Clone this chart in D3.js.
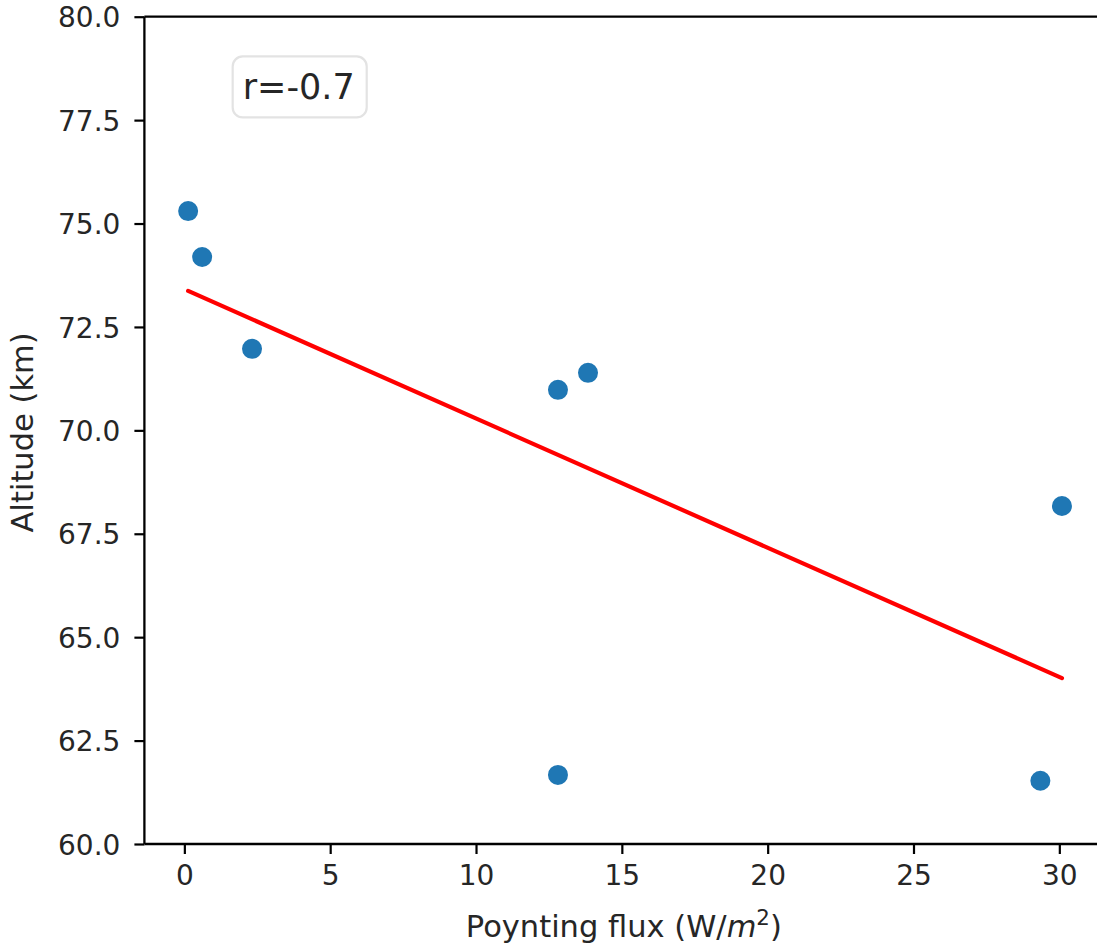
<!DOCTYPE html>
<html><head><meta charset="utf-8">
<script src="https://cdn.jsdelivr.net/npm/d3@7"></script>
<style>
html,body{margin:0;padding:0;background:#fff;overflow:hidden}
text{font-family:"DejaVu Sans",sans-serif;fill:#262626}
</style></head>
<body>
<svg id="chart" width="1097" height="949"></svg>
<script>
// Data
const fluxValues = [0.13, 0.61, 2.32, 12.81, 13.84, 30.09, 12.81, 29.35];
const altitudeValues = [75.30, 74.19, 71.97, 70.98, 71.39, 68.17, 61.67, 61.53];
const fitX = [0.13, 30.09];
const fitY = [73.37, 64.01];
const xTicks = [0, 5, 10, 15, 20, 25, 30];
const yTicks = [60.0, 62.5, 65.0, 67.5, 70.0, 72.5, 75.0, 77.5, 80.0];
const xDomain = [-1.37, 31.59];
const yDomain = [60, 80];
const annotation = {x: 2, y: 78, text: "r=-0.7"};

const svg = d3.select("#chart");
const m = {left: 144.4, right: 1105.7, top: 16.7, bottom: 844};
const x = d3.scaleLinear().domain(xDomain).range([m.left, m.right]);
const y = d3.scaleLinear().domain(yDomain).range([m.bottom, m.top]);

// points
svg.append("g").selectAll("circle")
  .data(fluxValues.map((v, i) => [v, altitudeValues[i]]))
  .join("circle")
  .attr("cx", d => x(d[0])).attr("cy", d => y(d[1]))
  .attr("r", 11).attr("fill", "#1f77b4")
  .attr("stroke", "#fff").attr("stroke-width", 2);

// fit line
svg.append("path")
  .datum(fitX.map((v, i) => [v, fitY[i]]))
  .attr("d", d3.line().x(d => x(d[0])).y(d => y(d[1])))
  .attr("stroke", "#ff0000").attr("stroke-width", 4.2).attr("fill", "none")
  .attr("stroke-linecap", "round");

// axes
const fs = 28;
const lfs = 30.5;
const xAxis = svg.append("g").attr("transform", `translate(0,${m.bottom})`)
  .call(d3.axisBottom(x).tickValues(xTicks).tickFormat(d3.format("d")).tickSize(10).tickPadding(10));
const yAxis = svg.append("g").attr("transform", `translate(${m.left},0)`)
  .call(d3.axisLeft(y).tickValues(yTicks).tickFormat(d3.format(".1f")).tickSize(10).tickPadding(14));
[xAxis, yAxis].forEach(a => {
  a.select(".domain").remove();
  a.selectAll(".tick line").attr("stroke", "#000").attr("stroke-width", 2.2);
  a.selectAll(".tick text").attr("font-size", fs).attr("fill", "#262626")
    .style("font-family", '"DejaVu Sans",sans-serif');
});
xAxis.selectAll(".tick text").attr("dy", "0.75em");
yAxis.selectAll(".tick text").attr("dy", "0.36em");

// spines
const sp = svg.append("g").attr("stroke", "#000").attr("stroke-width", 2.3).attr("fill", "none");
sp.append("line").attr("x1", m.left).attr("x2", m.right).attr("y1", m.bottom).attr("y2", m.bottom);
sp.append("line").attr("x1", m.left).attr("x2", m.right).attr("y1", m.top).attr("y2", m.top);
sp.append("line").attr("x1", m.left).attr("x2", m.left).attr("y1", m.top).attr("y2", m.bottom);
sp.append("line").attr("x1", m.right).attr("x2", m.right).attr("y1", m.top).attr("y2", m.bottom);

// axis labels
const xl = svg.append("text").attr("x", (x(0) + x(30)) / 2 + 2).attr("y", 937)
  .attr("text-anchor", "middle").attr("font-size", lfs);
xl.append("tspan").text("Poynting flux (W/");
xl.append("tspan").attr("font-style", "italic").text("m");
xl.append("tspan").attr("font-size", lfs * 0.7).attr("dy", -12).text("2");
xl.append("tspan").attr("dy", 12).text(")");

svg.append("text")
  .attr("transform", `translate(33,${(m.top + m.bottom) / 2 + 2}) rotate(-90)`)
  .attr("text-anchor", "middle").attr("font-size", lfs).text("Altitude (km)");

// annotation box
const ag = svg.append("g");
const at = ag.append("text").attr("x", x(annotation.x)).attr("y", y(annotation.y))
  .attr("font-size", 35).attr("fill", "#000").text(annotation.text);
const bb = at.node().getBBox();
ag.insert("rect", "text")
  .attr("x", bb.x - 10).attr("y", bb.y - 11)
  .attr("width", bb.width + 22).attr("height", bb.height + 21)
  .attr("rx", 10).attr("fill", "#fff").attr("fill-opacity", 0.8)
  .attr("stroke", "#e3e3e3").attr("stroke-width", 2.2);
</script>
</body></html>
